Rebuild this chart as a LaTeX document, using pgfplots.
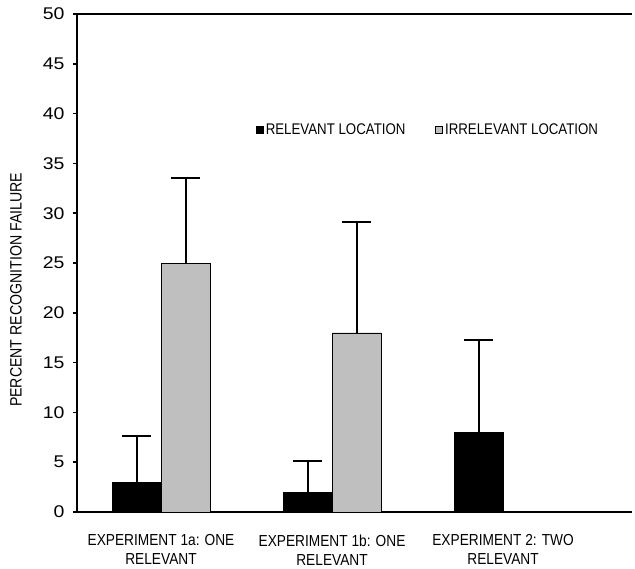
\documentclass[border=0pt]{standalone}
\usepackage{pgfplots}
\pgfplotsset{compat=1.18}
\usepackage{fontspec}
\setmainfont{Liberation Sans}[FakeStretch=0.86]
\newfontfamily\tickfont{Liberation Sans}[FakeStretch=1.15]
\definecolor{barGrey}{RGB}{191,191,191}
\begin{document}
\begin{tikzpicture}
\begin{axis}[
 name=ax,
 scale only axis, width=555bp, height=498bp,
 xmin=-0.4912, xmax=2.754, ymin=0, ymax=50,
 axis lines*=left, axis line style={line width=2.2bp, -},
 ytick={0,5,...,50}, xtick={0,1,2},
 xticklabels={{EXPERIMENT 1a: ONE\\RELEVANT},{EXPERIMENT 1b: ONE\\RELEVANT},{EXPERIMENT 2: TWO\\RELEVANT}},
 xticklabel style={align=center, font=\fontsize{16}{19}\selectfont, yshift=-15bp},
 x tick style={draw=none},
 y tick style={line width=1.5bp, black},
 tick align=outside, major tick length=4bp,
 /pgf/number format/assume math mode=true,
 yticklabel style={font=\tickfont\fontsize{17}{17}\selectfont, xshift=-5bp},
 ylabel={PERCENT RECOGNITION FAILURE},
 every axis y label/.style={at={(axis description cs:-0.11,0.446)}, rotate=90, anchor=center, font=\fontsize{16.5}{16.5}\selectfont},
 ybar, bar width=49bp,
 legend style={at={(axis description cs:0.3225,0.767)}, anchor=west, draw=none, fill=none, font=\fontsize{15.5}{15.5}\selectfont, legend columns=2, /tikz/every even column/.append style={column sep=28bp}, inner sep=0pt},
 legend image code/.code={\draw[#1, line width=0.6bp] (0bp,-3.5bp) rectangle (7bp,3.5bp);},
 error bars/y dir=plus, error bars/y explicit,
 error bars/error bar style={line width=2bp, black},
 error bars/error mark options={rotate=90, mark size=14.5bp, line width=2bp, black},
 clip=false,
]
\addplot[fill=black, draw=black, bar shift=-24.5bp] coordinates {(0,3) +- (0,4.6) (1,2) +- (0,3.1) (2,8) +- (0,9.25)};
\addplot[fill=barGrey, draw=black, bar shift=24.5bp] coordinates {(0,25) +- (0,8.55) (1,18) +- (0,11.1)};
\legend{RELEVANT LOCATION, IRRELEVANT LOCATION}
\draw[line width=2.2bp] (rel axis cs:0,1) -- (rel axis cs:1,1);
\end{axis}
\pgfresetboundingbox
\path[use as bounding box] ([shift={(-77bp,-57bp)}]ax.south west) rectangle ([shift={(3bp,14bp)}]ax.north east);
\end{tikzpicture}
\end{document}
